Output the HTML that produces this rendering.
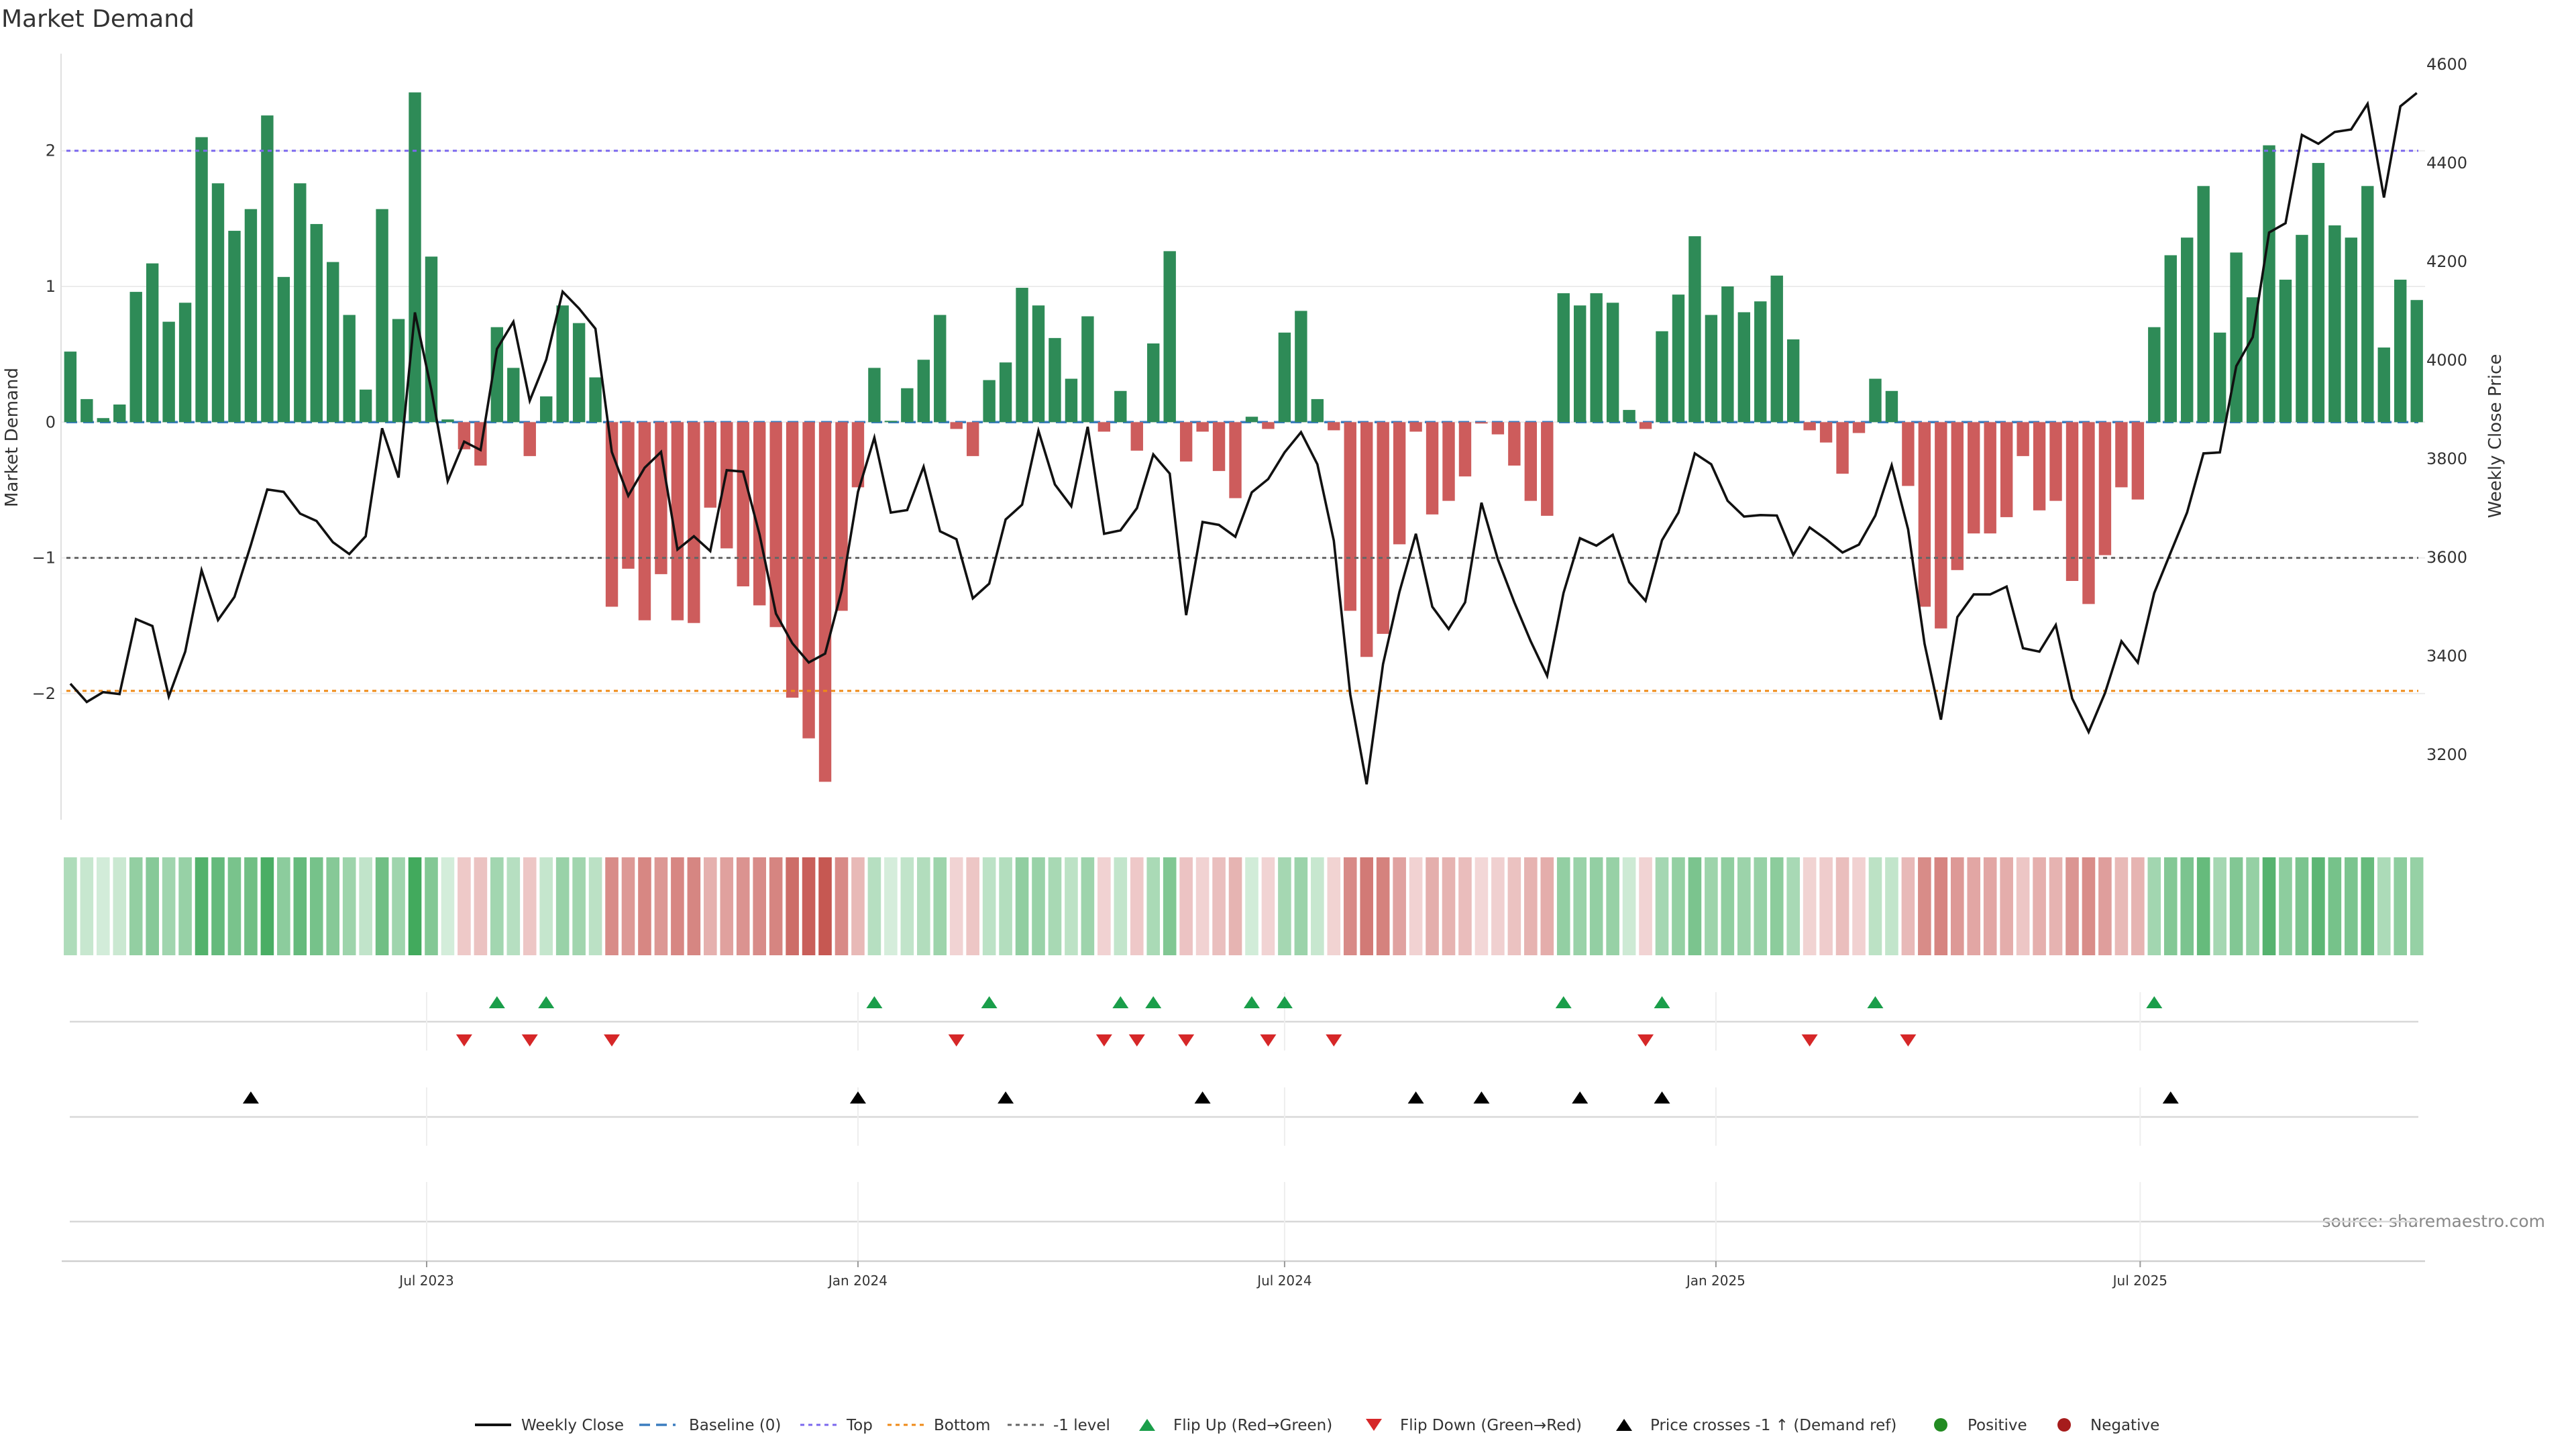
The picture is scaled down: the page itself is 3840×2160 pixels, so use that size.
<!DOCTYPE html>
<html><head><meta charset="utf-8"><title>Market Demand</title>
<style>
html,body{margin:0;padding:0;background:#fff;}
svg{display:block;font-family:"DejaVu Sans","Liberation Sans",sans-serif;}
</style></head>
<body>
<svg id="chart" xmlns="http://www.w3.org/2000/svg" width="3840" height="2160" viewBox="0 0 3840 2160">
<text x="2" y="40" font-size="36" fill="#333">Market Demand</text>
<text transform="translate(26,652) rotate(-90)" text-anchor="middle" font-size="26" fill="#333">Market Demand</text>
<text transform="translate(3728,650) rotate(-90)" text-anchor="middle" font-size="26" fill="#333">Weekly Close Price</text>
<text x="3794" y="1829" text-anchor="end" font-size="25" fill="#888">source: sharemaestro.com</text>
<g id="grid"></g>
<g id="bars"></g>
<g id="levels"></g>
<g id="priceg"></g>
<g id="heat"></g>
<g id="events"></g>
<g id="axes"></g>
<g id="legend"></g>
</svg>
<script>
const startDate = '2023-01-30';
const demand = [0.52,0.17,0.03,0.13,0.96,1.17,0.74,0.88,2.10,1.76,1.41,1.57,2.26,1.07,1.76,1.46,1.18,0.79,0.24,1.57,
0.76,2.43,1.22,0.02,-0.20,-0.32,0.70,0.40,-0.25,0.19,0.86,0.73,0.33,-1.36,-1.08,-1.46,-1.12,-1.46,-1.48,-0.63,
-0.93,-1.21,-1.35,-1.51,-2.03,-2.33,-2.65,-1.39,-0.48,0.40,0.01,0.25,0.46,0.79,-0.05,-0.25,0.31,0.44,0.99,0.86,
0.62,0.32,0.78,-0.07,0.23,-0.21,0.58,1.26,-0.29,-0.07,-0.36,-0.56,0.04,-0.05,0.66,0.82,0.17,-0.06,-1.39,-1.73,
-1.56,-0.90,-0.07,-0.68,-0.58,-0.40,-0.01,-0.09,-0.32,-0.58,-0.69,0.95,0.86,0.95,0.88,0.09,-0.05,0.67,0.94,1.37,
0.79,1.00,0.81,0.89,1.08,0.61,-0.06,-0.15,-0.38,-0.08,0.32,0.23,-0.47,-1.36,-1.52,-1.09,-0.82,-0.82,-0.70,-0.25,
-0.65,-0.58,-1.17,-1.34,-0.98,-0.48,-0.57,0.70,1.23,1.36,1.74,0.66,1.25,0.92,2.04,1.05,1.38,1.91,1.45,1.36,
1.74,0.55,1.05,0.90];
const closePrice = [3344,3307,3327,3323,3475,3461,3318,3409,3574,3473,3520,3625,3738,3733,3689,3674,3631,3607,3643,3862,
3762,4097,3940,3755,3835,3818,4023,4078,3918,4001,4139,4105,4064,3814,3725,3782,3814,3616,3643,3613,
3777,3774,3647,3486,3426,3387,3405,3532,3733,3843,3691,3696,3784,3653,3637,3517,3547,3677,3707,3857,
3748,3704,3865,3648,3655,3700,3809,3770,3483,3672,3666,3642,3732,3759,3813,3854,3789,3634,3322,3140,
3384,3530,3648,3500,3455,3509,3711,3596,3509,3430,3360,3528,3639,3624,3646,3550,3512,3635,3691,3811,
3789,3715,3683,3686,3685,3605,3661,3637,3610,3626,3685,3787,3657,3425,3271,3479,3525,3525,3541,3416,
3409,3463,3314,3246,3325,3430,3387,3528,3610,3691,3811,3813,3988,4047,4259,4278,4457,4439,4463,4468,
4520,4330,4515,4542];
const leftTicks = [-2,-1,0,1,2];
const leftTickLabels = ['\u22122','\u22121','0','1','2'];
const rightTicks = [3200,3400,3600,3800,4000,4200,4400,4600];
const xTickDates = ['2023-07-01','2024-01-01','2024-07-01','2025-01-01','2025-07-01'];
const xTickLabels = ['Jul 2023','Jan 2024','Jul 2024','Jan 2025','Jul 2025'];
const topLevel = 2, bottomLevel = -1.98, minusOneLevel = -1, priceRef = 3600;

const NS='http://www.w3.org/2000/svg';
function mk(parent,tag,attrs){const e=document.createElementNS(NS,tag);for(const k in attrs)e.setAttribute(k,attrs[k]);parent.appendChild(e);return e;}
const DAY=86400000;
const t0=Date.parse('2023-07-01');
function xDate(d){return 636+(Date.parse(d)-t0)/DAY*3.4943;}
function dateOf(k){return new Date(Date.parse(startDate)+k*7*DAY).toISOString().slice(0,10);}
function xi(k){return xDate(dateOf(k));}
function yL(v){return 629.3-v*202.3;}
function yR(p){return 96+(4600-p)*0.735;}
const X0=91,X1=3615;

const grid=document.getElementById('grid');
leftTicks.forEach((v,i)=>{
  const g=mk(grid,'line',{x1:X0,x2:X1,y1:yL(v),y2:yL(v),stroke:'#ececec','stroke-width':2});
  
  
  const t=mk(grid,'text',{x:83,y:yL(v)+8,'text-anchor':'end','font-size':24,fill:'#333'});
  t.textContent=leftTickLabels[i];
  
  
});
rightTicks.forEach(p=>{
  const t=mk(grid,'text',{x:3617,y:yR(p)+8,'font-size':24,fill:'#333'});
  t.textContent=String(p);
  
  
});

const lv=document.getElementById('levels');
const bl=mk(document.getElementById('grid'),'line',{x1:X0+8,x2:X1-10,y1:yL(0),y2:yL(0),stroke:'#3b7dbf','stroke-width':3.5,'stroke-dasharray':'16 9'});



const bars=document.getElementById('bars');
demand.forEach((v,k)=>{
  const x=xi(k);
  const y=Math.min(yL(v),yL(0));
  const h=Math.max(Math.abs(yL(v)-yL(0)),1);
  const r=mk(bars,'rect',{x:x-9.2,y:y,width:18.4,height:h,fill:v>=0?'#2e8b57':'#cd5c5c'});
  
  
});

[[topLevel,'#7b68ee','top-level-line'],[minusOneLevel,'#666','minus-one-level-line'],[bottomLevel,'#ef8a17','bottom-level-line']].forEach(a=>{
  const l=mk(lv,'line',{x1:X0+8,x2:X1-10,y1:yL(a[0]),y2:yL(a[0]),stroke:a[1],'stroke-width':3,'stroke-dasharray':'6 6'});
  
  
});

const pg=document.getElementById('priceg');
const pts=closePrice.map((p,k)=>xi(k).toFixed(1)+','+yR(p).toFixed(1)).join(' ');
const pl=mk(pg,'polyline',{points:pts,fill:'none',stroke:'#111','stroke-width':3.6,'stroke-linejoin':'miter'});



const heat=document.getElementById('heat');
function mix(a,b,t){return 'rgb('+a.map((c,i)=>Math.round(c+(b[i]-c)*t)).join(',')+')';}
demand.forEach((v,k)=>{
  const t=Math.min(Math.abs(v)/2.5,1);
  const col=v>=0?mix([214,238,220],[62,168,90],Math.pow(t,0.85)):mix([243,216,216],[198,88,82],Math.pow(t,0.85));
  const r=mk(heat,'rect',{x:xi(k)-9.8,y:1278,width:19.6,height:146,fill:col});
  
  
});

const ev=document.getElementById('events');
const PX0=104,PX1=3605;
[[1523,'flip-panel-line'],[1665,'cross-panel-line'],[1821,'empty-panel-line']].forEach(a=>{
  const l=mk(ev,'line',{x1:PX0,x2:PX1,y1:a[0],y2:a[0],stroke:'#d8d8d8','stroke-width':2.5});
  
  
});
xTickDates.forEach(d=>{
  const x=xDate(d);
  [[1479,1566],[1621,1708],[1762,1880]].forEach(s=>{
    const l=mk(ev,'line',{x1:x,x2:x,y1:s[0],y2:s[1],stroke:'#eeeeee','stroke-width':2});
    
    
  });
});
function tri(x,y,up,col,name){
  const p=up?`${x-12},${y+9} ${x+12},${y+9} ${x},${y-9}`:`${x-12},${y-9} ${x+12},${y-9} ${x},${y+9}`;
  const e=mk(ev,'polygon',{points:p,fill:col});
  
  
}
for(let k=1;k<demand.length;k++){
  if(demand[k-1]<0&&demand[k]>=0) tri(xi(k),1494,true,'#1a9e4a','flip-up-marker');
  if(demand[k-1]>=0&&demand[k]<0) tri(xi(k),1551,false,'#d62728','flip-down-marker');
  if(closePrice[k-1]<priceRef&&closePrice[k]>=priceRef) tri(xi(k),1636,true,'#000','price-cross-marker');
}

const ax=document.getElementById('axes');
const sp=mk(ax,'line',{x1:X0,x2:X0,y1:80,y2:1222,stroke:'#e0e0e0','stroke-width':2});


const xa=mk(ax,'line',{x1:92,x2:3615,y1:1880,y2:1880,stroke:'#cfcfcf','stroke-width':2.5});


xTickDates.forEach((d,i)=>{
  const x=xDate(d);
  const tk=mk(ax,'line',{x1:x,x2:x,y1:1880,y2:1889,stroke:'#999','stroke-width':2});
  
  
  const t=mk(ax,'text',{x:x,y:1916,'text-anchor':'middle','font-size':20,fill:'#333'});
  t.textContent=xTickLabels[i];
  
  
});

const lg=document.getElementById('legend');
const LY=2124;
function ltext(x,s){const t=mk(lg,'text',{x:x,y:LY+8,'font-size':23,fill:'#333'});t.textContent=s;}
function lline(x1,x2,col,dash,w,name){const l=mk(lg,'line',{x1:x1,x2:x2,y1:LY,y2:LY,stroke:col,'stroke-width':w,'stroke-dasharray':dash});}
lline(708,762,'#111','none',4,'legend-weekly-close'); ltext(777,'Weekly Close');
lline(953,1007,'#3b7dbf','16 9',3.5,'legend-baseline'); ltext(1027,'Baseline (0)');
lline(1193,1247,'#7b68ee','6 6',3,'legend-top'); ltext(1262,'Top');
lline(1323,1377,'#ef8a17','6 6',3,'legend-bottom'); ltext(1392,'Bottom');
lline(1502,1556,'#666','6 6',3,'legend-minus-one'); ltext(1570,'-1 level');
function ltri(x,up,col,name){const y=LY;const p=up?`${x-12},${y+9} ${x+12},${y+9} ${x},${y-9}`:`${x-12},${y-9} ${x+12},${y-9} ${x},${y+9}`;const e=mk(lg,'polygon',{points:p,fill:col});}
ltri(1710,true,'#1a9e4a','legend-flip-up'); ltext(1749,'Flip Up (Red\u2192Green)');
ltri(2048,false,'#d62728','legend-flip-down'); ltext(2087,'Flip Down (Green\u2192Red)');
ltri(2421,true,'#000','legend-price-cross'); ltext(2460,'Price crosses -1 \u2191 (Demand ref)');
const c1=mk(lg,'circle',{cx:2893,cy:LY,r:10,fill:'#228b22'});


ltext(2933,'Positive');
const c2=mk(lg,'circle',{cx:3077,cy:LY,r:10,fill:'#a61c1c'});


ltext(3116,'Negative');
</script>
</body></html>
